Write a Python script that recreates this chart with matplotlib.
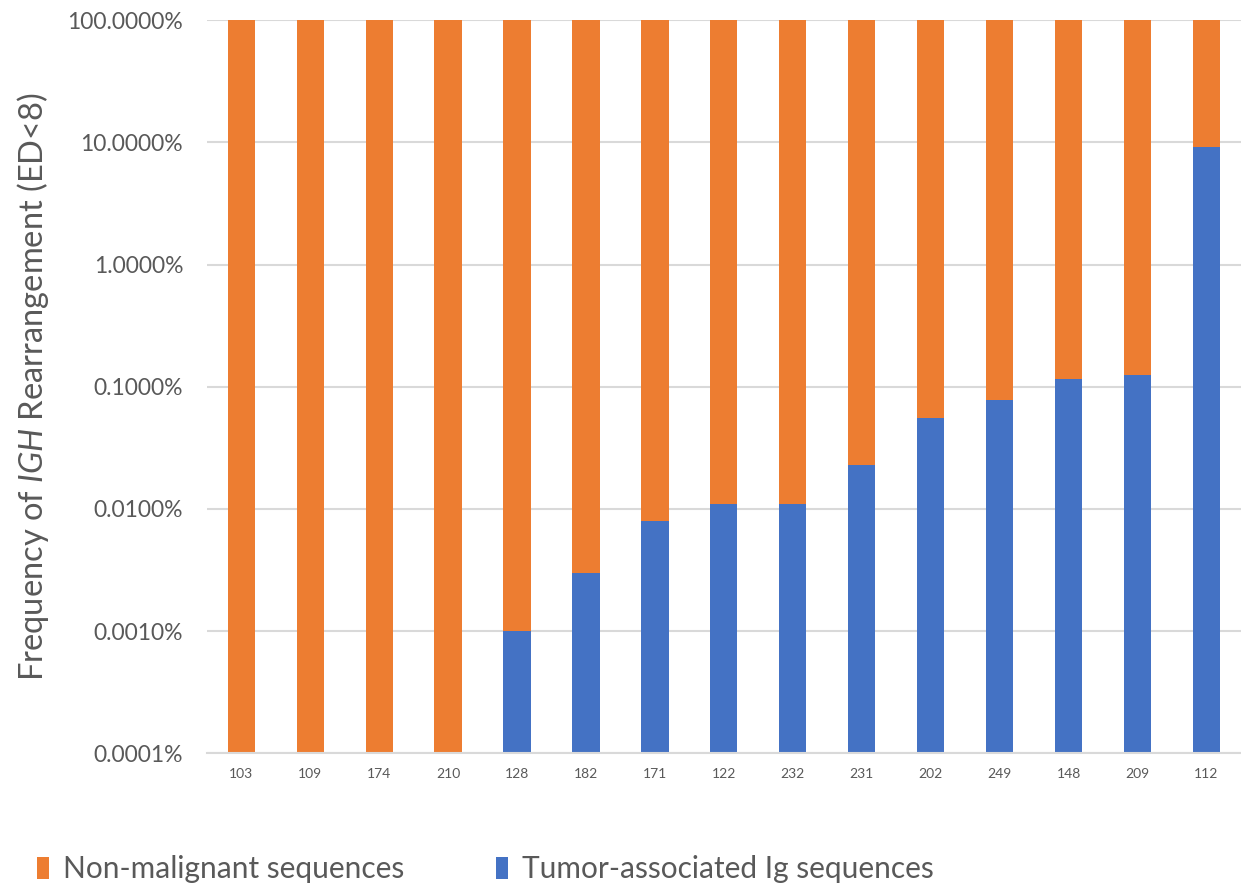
import matplotlib
matplotlib.use("Agg")
import matplotlib.pyplot as plt
from matplotlib.patches import Patch
import numpy as np

plt.rcParams['font.family'] = ['Lato', 'DejaVu Sans']
plt.rcParams['mathtext.fontset'] = 'custom'
plt.rcParams['mathtext.rm'] = 'Lato'
plt.rcParams['mathtext.it'] = 'Lato:italic'

# Sample IDs, ordered by tumor-associated frequency
samples = ['103', '109', '174', '210', '128', '182', '171', '122',
           '232', '231', '202', '249', '148', '209', '112']

# Frequency (%) of tumor-associated Ig sequences (ED<8); 0 = none detected
tumor_pct = [0, 0, 0, 0, 0.001, 0.003, 0.008, 0.011,
             0.011, 0.023, 0.056, 0.078, 0.116, 0.125, 9.1]

# Y-axis decades (%)
y_ticks_pct = [0.0001, 0.001, 0.01, 0.1, 1, 10, 100]

ORANGE = '#ED7D31'
BLUE = '#4472C4'
GRID = '#D9D9D9'
TEXT = '#595959'

floor = y_ticks_pct[0] / 100.0
top = y_ticks_pct[-1] / 100.0
tumor = np.array(tumor_pct) / 100.0
x = np.arange(len(samples))

fig = plt.figure(figsize=(12.41, 8.84), dpi=100)
ax = fig.add_axes([0.1666, 0.148, 0.8334, 0.829])

width = 0.395
blue_top = np.where(tumor > 0, tumor, floor)
# Tumor-associated portion, from the axis floor up to its frequency
ax.bar(x, blue_top - floor, bottom=floor, width=width, color=BLUE,
       edgecolor='none', zorder=3)
# Non-malignant remainder, stacked up to 100%
ax.bar(x, top - blue_top, bottom=blue_top, width=width, color=ORANGE,
       edgecolor='none', zorder=3)

ax.set_yscale('log')
ax.set_ylim(floor, top)
ax.set_xlim(-0.5, len(samples) - 0.5)
ax.set_yticks([v / 100.0 for v in y_ticks_pct])
ax.set_yticklabels([f"{v:.4f}%" for v in y_ticks_pct])
ax.yaxis.set_minor_locator(matplotlib.ticker.NullLocator())
ax.set_xticks(x)
ax.set_xticklabels(samples)

ax.tick_params(axis='y', length=0, pad=17, labelsize=16.5, labelcolor=TEXT)
ax.tick_params(axis='x', length=0, pad=11, labelsize=10, labelcolor=TEXT)

ax.grid(axis='y', color=GRID, linewidth=1.5, zorder=0)
for side in ('top', 'right', 'left'):
    ax.spines[side].set_visible(False)
ax.spines['bottom'].set_color(GRID)
ax.spines['bottom'].set_linewidth(1.5)
ax.spines['bottom'].set_zorder(4)

ax.set_ylabel(r'Frequency of $IGH$ Rearrangement (ED<8)',
              fontsize=23.5, color=TEXT)
ax.yaxis.set_label_coords(-0.151, 0.5)

handles = [Patch(facecolor=ORANGE, edgecolor='none', label='Non-malignant sequences'),
           Patch(facecolor=BLUE, edgecolor='none', label='Tumor-associated Ig sequences')]
fig.legend(handles=handles, loc='lower left', bbox_to_anchor=(0.030, 0.001),
           ncol=2, frameon=False, fontsize=21.5, labelcolor=TEXT,
           borderpad=0, borderaxespad=0,
           handlelength=0.4, handleheight=0.75, handletextpad=0.45,
           columnspacing=3.1)

fig.savefig('out.png', dpi=100)
